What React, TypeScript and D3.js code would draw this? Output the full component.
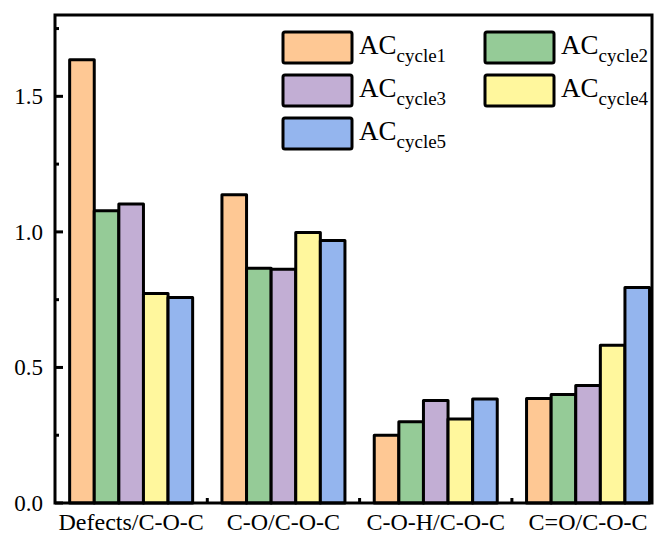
import * as d3 from "d3";
import { useEffect, useRef } from "react";

// Categories on the x axis
const categories = ["Defects/C-O-C", "C-O/C-O-C", "C-O-H/C-O-C", "C=O/C-O-C"];

// One array per cycle, in category order
const cycle1 = [1.635, 1.137, 0.25, 0.385];
const cycle2 = [1.078, 0.866, 0.3, 0.4];
const cycle3 = [1.103, 0.862, 0.378, 0.433];
const cycle4 = [0.773, 0.998, 0.31, 0.582];
const cycle5 = [0.758, 0.968, 0.384, 0.795];

const seriesNames = ["cycle1", "cycle2", "cycle3", "cycle4", "cycle5"];
const seriesColors = ["#FEC894", "#95CB97", "#C2AED4", "#FFF79D", "#94B5EE"];

const yTicks = [0, 0.5, 1.0, 1.5];
const yMinorTicks = [0.25, 0.75, 1.25, 1.75];

const W = 663;
const H = 536;

const App = () => {
  const svgRef = useRef(null);

  useEffect(() => {
    if (!svgRef.current) return;
    const svg = d3.select(svgRef.current);
    svg.selectAll("*").remove();

    const left = 55;
    const right = 652;
    const top = 15;
    const bottom = 503;
    const step = 152.3;
    const groupWidth = 123;
    const font = "Liberation Serif, Times New Roman, serif";

    const values = [cycle1, cycle2, cycle3, cycle4, cycle5];

    const x = d3
      .scaleBand()
      .domain(categories)
      .range([left, left + step * categories.length])
      .padding(0);

    const xInner = d3
      .scaleBand()
      .domain(seriesNames)
      .range([0, groupWidth])
      .padding(0);

    const y = d3.scaleLinear().domain([0, 1.8]).range([bottom, top]);

    // bars
    const groups = svg
      .append("g")
      .selectAll("g")
      .data(categories)
      .join("g")
      .attr(
        "transform",
        (c) => `translate(${x(c) + x.bandwidth() / 2 - groupWidth / 2},0)`
      );

    groups
      .selectAll("rect")
      .data((c, i) => seriesNames.map((s, k) => ({ s, k, v: values[k][i] })))
      .join("rect")
      .attr("x", (d) => xInner(d.s))
      .attr("y", (d) => y(d.v))
      .attr("width", xInner.bandwidth())
      .attr("height", (d) => bottom - y(d.v))
      .attr("fill", (d) => seriesColors[d.k])
      .attr("stroke", "#000")
      .attr("stroke-width", 3)
      .attr("stroke-linejoin", "round");

    // frame
    svg
      .append("rect")
      .attr("x", left)
      .attr("y", top)
      .attr("width", right - left)
      .attr("height", bottom - top)
      .attr("fill", "none")
      .attr("stroke", "#000")
      .attr("stroke-width", 3);

    // y ticks (inward)
    svg
      .append("g")
      .selectAll("line")
      .data(yTicks)
      .join("line")
      .attr("x1", left)
      .attr("x2", left + 8)
      .attr("y1", (d) => y(d))
      .attr("y2", (d) => y(d))
      .attr("stroke", "#000")
      .attr("stroke-width", 3);

    svg
      .append("g")
      .selectAll("line")
      .data(yMinorTicks)
      .join("line")
      .attr("x1", left)
      .attr("x2", left + 4)
      .attr("y1", (d) => y(d))
      .attr("y2", (d) => y(d))
      .attr("stroke", "#000")
      .attr("stroke-width", 3);

    svg
      .append("g")
      .selectAll("text")
      .data(yTicks)
      .join("text")
      .attr("x", 43)
      .attr("y", (d) => y(d))
      .attr("dy", "0.35em")
      .attr("text-anchor", "end")
      .attr("font-family", font)
      .attr("font-size", 23)
      .text((d) => d3.format(".1f")(d));

    // x ticks between groups
    svg
      .append("g")
      .selectAll("line")
      .data(categories.slice(1))
      .join("line")
      .attr("x1", (c) => x(c))
      .attr("x2", (c) => x(c))
      .attr("y1", bottom)
      .attr("y2", bottom - 5)
      .attr("stroke", "#000")
      .attr("stroke-width", 3);

    svg
      .append("g")
      .selectAll("text")
      .data(categories)
      .join("text")
      .attr("x", (c) => x(c) + x.bandwidth() / 2)
      .attr("y", 530)
      .attr("text-anchor", "middle")
      .attr("font-family", font)
      .attr("font-size", 24)
      .text((c) => c);

    // legend
    const legendPos = [
      [283, 32],
      [485, 32],
      [283, 75],
      [485, 75],
      [283, 118],
    ];
    const legend = svg
      .append("g")
      .selectAll("g")
      .data(seriesNames)
      .join("g")
      .attr("transform", (_d, i) => `translate(${legendPos[i][0]},${legendPos[i][1]})`);

    legend
      .append("rect")
      .attr("width", 69)
      .attr("height", 31)
      .attr("rx", 2)
      .attr("fill", (_d, i) => seriesColors[i])
      .attr("stroke", "#000")
      .attr("stroke-width", 3);

    const label = legend
      .append("text")
      .attr("x", 76)
      .attr("y", 22)
      .attr("font-family", font)
      .attr("font-size", 27);
    label.append("tspan").text("AC");
    label
      .append("tspan")
      .attr("dy", 8)
      .attr("font-size", 19)
      .text((d) => d);
  }, []);

  return (
    <svg
      ref={svgRef}
      width={W}
      height={H}
      style={{ position: "absolute", left: 0, top: 0, background: "#fff" }}
    />
  );
};

export default App;
